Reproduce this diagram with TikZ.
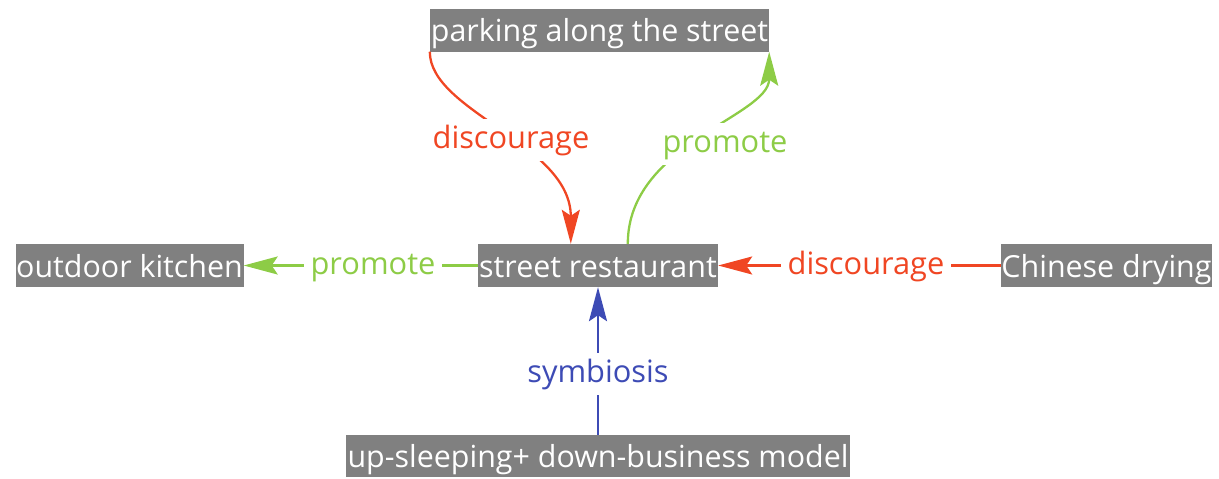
\documentclass[tikz,border=0pt]{standalone}
\usepackage{fontspec}
\setmainfont{Open Sans}
\usetikzlibrary{arrows.meta,calc}
\definecolor{boxgray}{HTML}{808080}
\definecolor{cred}{HTML}{F04623}
\definecolor{cgreen}{HTML}{8DCC46}
\definecolor{cblue}{HTML}{3D4BB5}
\tikzset{
  box/.style={fill=boxgray, text=white, inner sep=0pt, minimum height=43pt,
    text height=30.5pt, text depth=7.5pt, font=\fontsize{30.4pt}{36pt}\selectfont},
  lbl/.style={fill=white, inner xsep=7pt, inner ysep=13pt, text height=16.5pt,
    text depth=0pt, font=\fontsize{30.8pt}{36pt}\selectfont},
  conn/.style={line width=2.3pt, -{Stealth[length=34pt,width=18pt,inset=6pt]}},
}
\begin{document}
\begin{tikzpicture}[x=1pt,y=-1pt]
\useasboundingbox (0,0) rectangle (1219,479);
\node[box, minimum width=339pt] (park) at (599.5,30) {parking along the street};
\node[box, minimum width=228pt] (kitchen) at (129.5,265.5) {outdoor kitchen};
\node[box, minimum width=240pt] (rest) at (598,265.5) {street restaurant};
\node[box, minimum width=211pt] (dry) at (1106.5,265.5) {Chinese drying};
\node[box, minimum width=504pt, minimum height=42pt] (model) at (598,456) {up-sleeping+ down-business model};

\draw[conn, cred] (park.south west) .. controls +(0,60) and +(0,-100) .. ([xshift=93pt]rest.north west);
\draw[conn, cgreen] ([xshift=150pt]rest.north west) .. controls +(0,-100) and +(0,65) .. (park.south east);
\draw[conn, cgreen] (rest.west) -- (kitchen.east);
\draw[conn, cred] (dry.west) -- (rest.east);
\draw[conn, cblue] (model.north) -- (rest.south);

\node[lbl, text=cred] (l1) at (511,140) {discourage};
\node[lbl, text=cgreen] (l2) at (725,144) {promote};
\node[lbl, text=cgreen] (l3) at (373,266) {promote};
\node[lbl, text=cred] (l4) at (866,266) {discourage};
\node[lbl, text=cblue] (l5) at (598,374) {symbiosis};
\end{tikzpicture}
\end{document}
